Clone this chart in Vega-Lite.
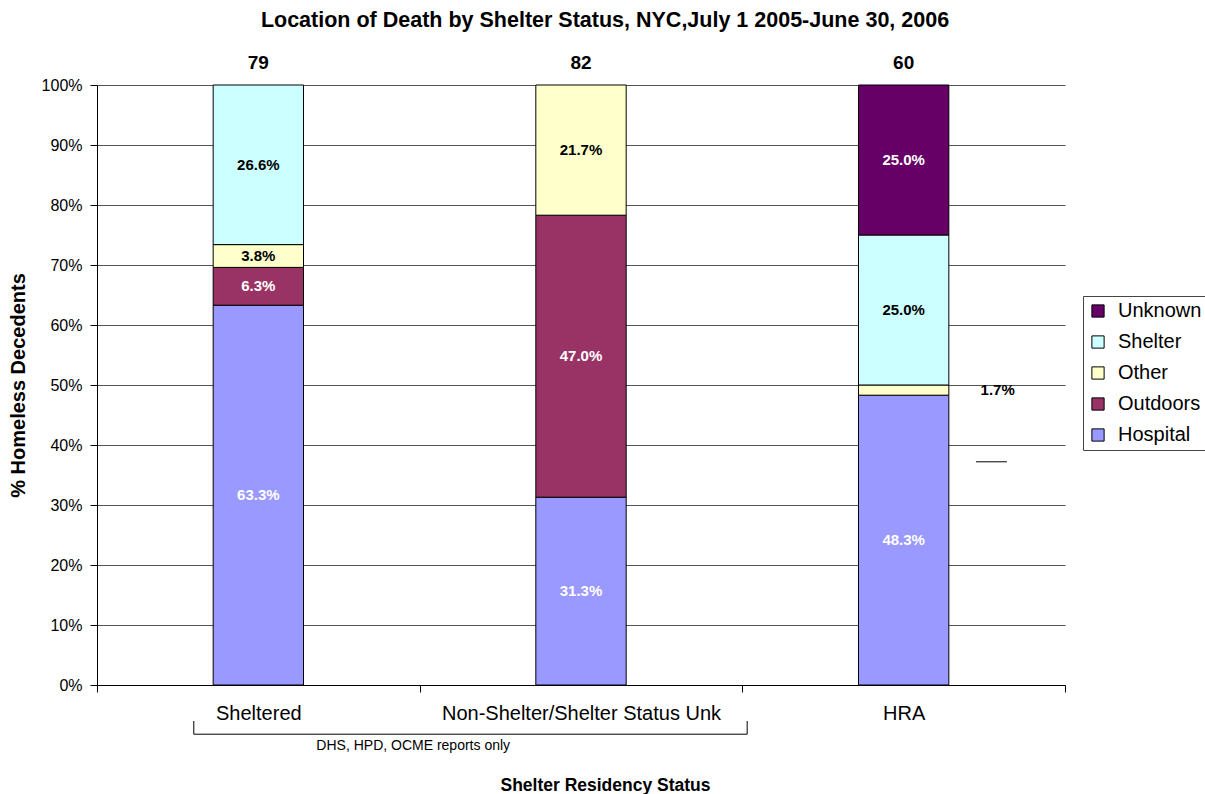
{
  "$schema": "https://vega.github.io/schema/vega-lite/v6.json",
  "autosize": {"type": "none"},
  "padding": {"left": 97, "top": 85, "right": 140, "bottom": 109},
  "width": 968,
  "height": 600,
  "background": "white",
  "config": {"font": "Liberation Sans", "view": {"stroke": null}},
  "title": {
    "text": "Location of Death by Shelter Status, NYC,July 1 2005-June 30, 2006",
    "fontSize": 21.5,
    "fontWeight": "bold",
    "color": "#000",
    "frame": "group",
    "anchor": "middle",
    "dx": 24,
    "offset": 23
  },
  "datasets": {
    "main": [
      {"status": "Sheltered", "location": "Hospital", "share": 0.633, "rank": 1},
      {"status": "Sheltered", "location": "Outdoors", "share": 0.063, "rank": 2},
      {"status": "Sheltered", "location": "Other", "share": 0.038, "rank": 3},
      {"status": "Sheltered", "location": "Shelter", "share": 0.266, "rank": 4},
      {"status": "Non-Shelter/Shelter Status Unk", "location": "Hospital", "share": 0.313, "rank": 1},
      {"status": "Non-Shelter/Shelter Status Unk", "location": "Outdoors", "share": 0.47, "rank": 2},
      {"status": "Non-Shelter/Shelter Status Unk", "location": "Other", "share": 0.217, "rank": 3},
      {"status": "HRA", "location": "Hospital", "share": 0.483, "rank": 1},
      {"status": "HRA", "location": "Other", "share": 0.017, "rank": 3},
      {"status": "HRA", "location": "Shelter", "share": 0.25, "rank": 4},
      {"status": "HRA", "location": "Unknown", "share": 0.25, "rank": 5}
    ],
    "counts": [
      {"status": "Sheltered", "n": 79},
      {"status": "Non-Shelter/Shelter Status Unk", "n": 82},
      {"status": "HRA", "n": 60}
    ],
    "bracket": [
      {"x": 0.3, "x2": 2.015, "y": -0.082, "y2": -0.082, "part": "bracket"},
      {"x": 0.3, "x2": 0.3, "y": -0.06, "y2": -0.082, "part": "bracket"},
      {"x": 2.015, "x2": 2.015, "y": -0.06, "y2": -0.082, "part": "bracket"},
      {"x": 2.724, "x2": 2.82, "y": 0.372, "y2": 0.372, "part": "leader"}
    ],
    "note": [
      {"x": 0.98, "y": -0.101, "label": "DHS, HPD, OCME reports only"}
    ]
  },
  "layer": [
    {
      "layer": [
        {
          "data": {"name": "main"},
          "mark": {"type": "bar", "width": {"band": 0.28}, "stroke": "#000", "strokeWidth": 1},
          "encoding": {
            "x": {
              "field": "status",
              "type": "nominal",
              "scale": {"domain": ["Sheltered", "Non-Shelter/Shelter Status Unk", "HRA"], "paddingInner": 0, "paddingOuter": 0},
              "axis": {
                "title": "Shelter Residency Status",
                "titleFontSize": 17.5,
                "titleFontWeight": "bold",
                "titleColor": "#000",
                "titleX": 508,
                "titleY": 100,
                "titleBaseline": "middle",
                "labelAngle": 0,
                "labelFontSize": 20,
                "labelLimit": 0,
                "labelColor": "#000",
                "labelPadding": 11,
                "tickBand": "extent",
                "tickSize": 7,
                "tickColor": "#000",
                "domainColor": "#000",
                "grid": false
              }
            },
            "y": {
              "field": "share",
              "type": "quantitative",
              "stack": "zero",
              "title": "% Homeless Decedents",
              "scale": {"domain": [0, 1], "nice": false},
              "axis": {
                "title": "% Homeless Decedents",
                "titleFontSize": 20,
                "titleFontWeight": "bold",
                "titleColor": "#000",
                "titleX": -79,
                "titleY": 300,
                "titleBaseline": "middle",
                "format": ".0%",
                "values": [0, 0.1, 0.2, 0.3, 0.4, 0.5, 0.6, 0.7, 0.8, 0.9, 1],
                "labelFontSize": 16,
                "labelColor": "#000",
                "labelPadding": 8,
                "tickSize": 7,
                "tickColor": "#000",
                "domainColor": "#000",
                "grid": true,
                "gridColor": "#555"
              }
            },
            "color": {
              "field": "location",
              "type": "nominal",
              "scale": {
                "domain": ["Unknown", "Shelter", "Other", "Outdoors", "Hospital"],
                "range": ["#660066", "#CCFFFF", "#FFFFCC", "#993366", "#9999FF"]
              },
              "legend": {
                "orient": "none",
                "legendX": 986,
                "legendY": 211,
                "title": null,
                "labelFontSize": 20,
                "labelColor": "#000",
                "symbolType": "square",
                "symbolSize": 150,
                "symbolStrokeColor": "#000",
                "symbolStrokeWidth": 1,
                "labelOffset": 10,
                "rowPadding": 11,
                "padding": 5,
                "strokeColor": "#444",
                "fillColor": "#fff"
              }
            },
            "order": {"field": "rank", "type": "quantitative"}
          }
        },
        {
          "data": {"name": "main"},
          "mark": {"type": "text", "fontSize": 15, "fontWeight": "bold", "baseline": "middle"},
          "encoding": {
            "x": {"field": "status", "type": "nominal"},
            "y": {"field": "share", "type": "quantitative", "stack": "zero", "bandPosition": 0.5, "title": "% Homeless Decedents"},
            "detail": {"field": "location"},
            "order": {"field": "rank", "type": "quantitative"},
            "text": {
              "condition": {"test": "datum.status === 'HRA' && datum.location === 'Other'", "value": ""},
              "field": "share",
              "type": "quantitative",
              "format": ".1%"
            },
            "fill": {
              "condition": {"test": "datum.location === 'Other' || datum.location === 'Shelter'", "value": "#000"},
              "value": "#fff"
            }
          }
        },
        {
          "data": {"name": "main"},
          "transform": [{"filter": "datum.status === 'HRA' && datum.location === 'Other'"}],
          "mark": {"type": "text", "fontSize": 15, "fontWeight": "bold", "baseline": "middle", "dx": 94, "color": "#000"},
          "encoding": {
            "x": {"field": "status", "type": "nominal"},
            "y": {"datum": 0.492},
            "text": {"field": "share", "type": "quantitative", "format": ".1%"}
          }
        },
        {
          "data": {"name": "counts"},
          "mark": {"type": "text", "fontSize": 19, "fontWeight": "bold", "baseline": "middle", "dy": -22, "color": "#000"},
          "encoding": {
            "x": {"field": "status", "type": "nominal"},
            "y": {"datum": 1},
            "text": {"field": "n", "type": "quantitative"}
          }
        }
      ]
    },
    {
      "layer": [
        {
          "data": {"name": "bracket"},
          "mark": {"type": "rule", "color": "#000", "strokeWidth": 1},
          "encoding": {
            "x": {"field": "x", "type": "quantitative", "scale": {"domain": [0, 3], "nice": false, "zero": false}, "axis": null},
            "x2": {"field": "x2"},
            "y": {"field": "y", "type": "quantitative", "title": "% Homeless Decedents"},
            "y2": {"field": "y2"},
            "strokeWidth": {"condition": {"test": "datum.part === 'leader'", "value": 1.5}, "value": 1}
          }
        },
        {
          "data": {"name": "note"},
          "mark": {"type": "text", "fontSize": 14, "baseline": "middle", "color": "#000"},
          "encoding": {
            "x": {"field": "x", "type": "quantitative", "axis": null},
            "y": {"field": "y", "type": "quantitative", "title": "% Homeless Decedents"},
            "text": {"field": "label"}
          }
        }
      ]
    }
  ],
  "resolve": {"scale": {"x": "independent"}}
}
